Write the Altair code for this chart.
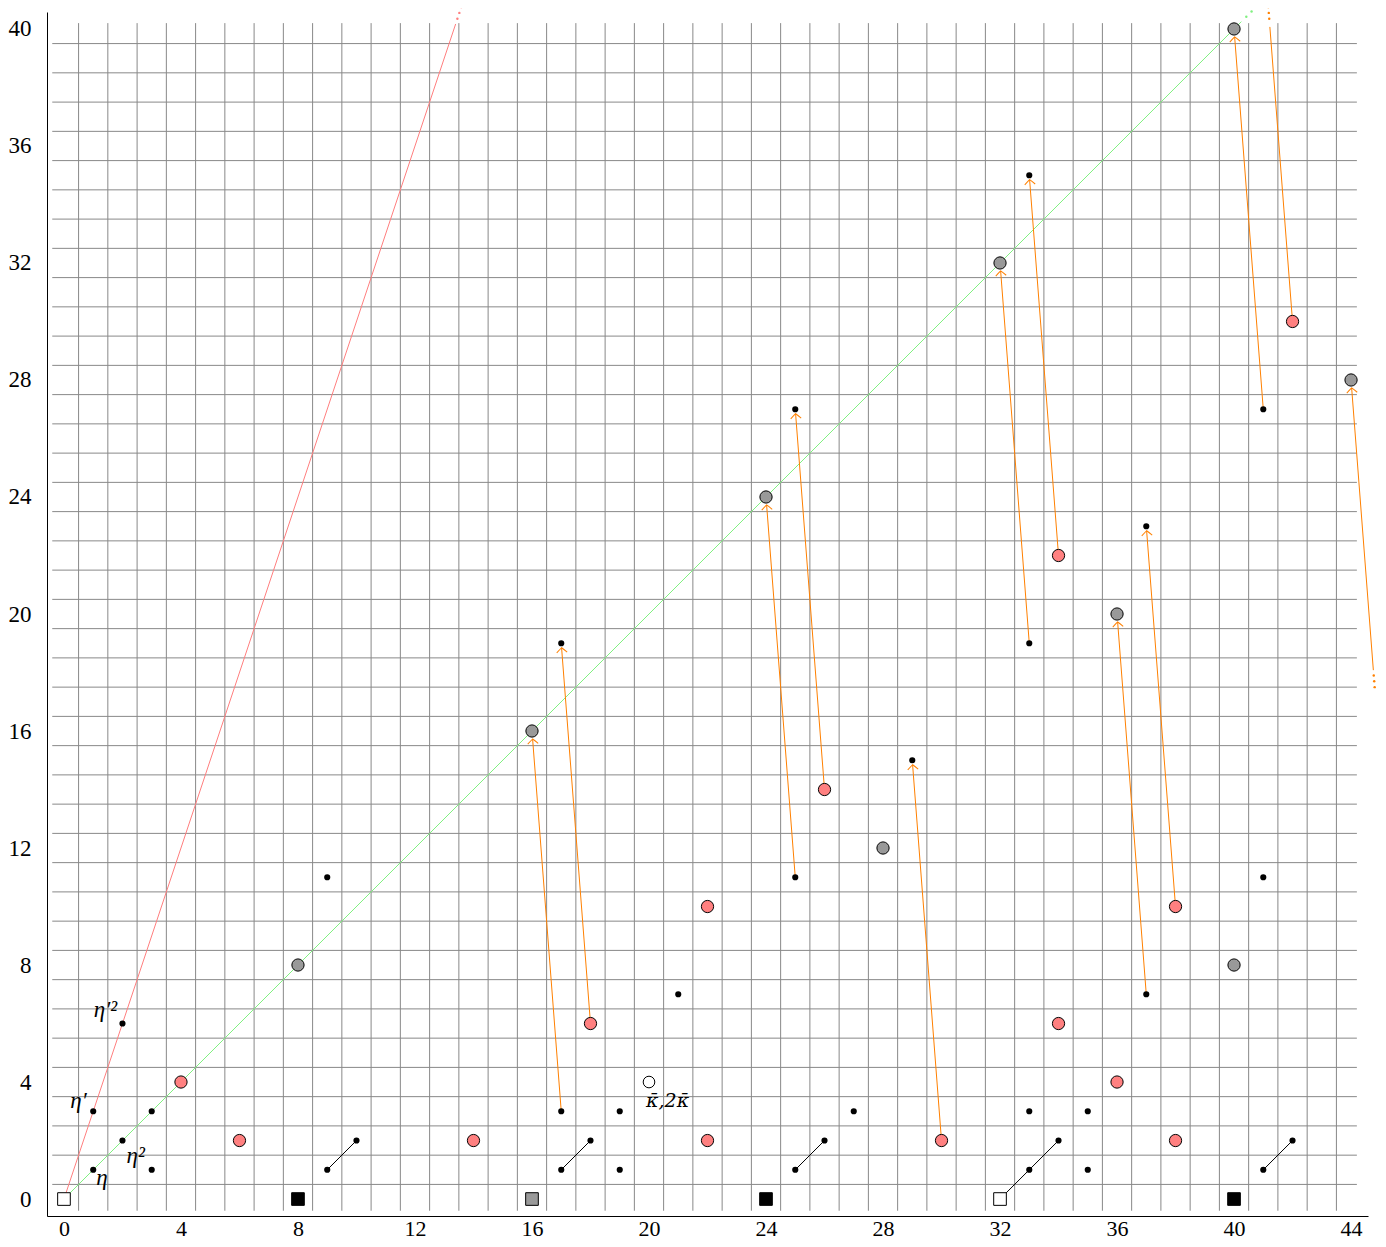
import math
import pandas as pd
import altair as alt

# ---------------- data ----------------
# small black classes
dot_s = [1, 2, 3, 1, 2, 3, 9, 10, 9, 17, 18, 17, 19, 19, 17, 21, 25, 26, 25, 25, 27, 29,
         33, 34, 33, 35, 35, 33, 33, 37, 37, 41, 42, 41, 41]
dot_t = [1, 2, 3, 3, 6, 1, 1, 2, 11, 1, 2, 3, 1, 3, 19, 7, 1, 2, 11, 27, 3, 15,
         1, 2, 3, 1, 3, 19, 35, 7, 23, 1, 2, 11, 27]
# red (pink) circles
red_s = [4, 6, 14, 18, 22, 22, 26, 30, 34, 34, 36, 38, 38, 42]
red_t = [4, 2, 2, 6, 2, 10, 14, 2, 6, 22, 4, 2, 10, 30]
# grey circles
gray_s = [8, 16, 24, 28, 32, 36, 40, 40, 44]
gray_t = [8, 16, 24, 12, 32, 20, 8, 40, 28]
# open circle
open_s = [20]
open_t = [4]
# squares on the bottom row
sq_s = [0, 8, 16, 24, 32, 40]
sq_t = [0, 0, 0, 0, 0, 0]
sq_kind = ["open", "solid", "grey", "solid", "open", "solid"]
# eta multiplications (black segments)
eta_s0 = [9, 17, 25, 32, 33, 41]
eta_t0 = [1, 1, 1, 0, 1, 1]
eta_s1 = [10, 18, 26, 33, 34, 42]
eta_t1 = [2, 2, 2, 1, 2, 2]
# differentials (orange arrows): source -> target
d_src_s = [17, 18, 25, 26, 30, 33, 34, 37, 38, 41, 42, 45]
d_src_t = [3, 6, 11, 14, 2, 19, 22, 7, 10, 27, 30, 15]
d_tgt_s = [16, 17, 24, 25, 29, 32, 33, 36, 37, 40, 41, 44]
d_tgt_t = [16, 19, 24, 27, 15, 32, 35, 20, 23, 40, 43, 28]
# towers from the origin: (slope in t per s, last drawn t, dotted continuation t's)
tower_name = ["eta_prime", "eta"]
tower_slope = [3, 1]
tower_end_t = [40.17, 40.25]
tower_dots_t = [[40.35, 40.55, 40.75], [40.42, 40.6, 40.78]]
# label texts and anchors
lab_text = ["η", "η²", "η′", "η′²"]
lab_s = [1.1, 2.45, 0.5, 1.42]
lab_t = [0.72, 1.47, 3.35, 6.45]
lab_align = ["left", "center", "center", "center"]
kappa_text = ["κ̄,2κ̄"]
kappa_s = [19.9]
kappa_t = [3.35]

# axis ticks
x_ticks = list(range(0, 45, 4))
y_ticks = list(range(0, 41, 4))

# ---------------- styling ----------------
PX = 29.25                      # pixels per unit (both axes)
XDOM = [-0.58, 44.58]
YDOM = [-0.58, 40.58]
W = round((XDOM[1] - XDOM[0]) * PX)
H = round((YDOM[1] - YDOM[0]) * PX)
FONT = "Liberation Serif"
RED_FILL = "#ff8080"
GRAY_FILL = "#999999"
ORANGE = "#ff8000"
RED_LINE = "#ff7f7f"
GREEN_LINE = "#80f080"
GRID = "#888888"

xs = alt.Scale(domain=XDOM, nice=False, zero=False)
ys = alt.Scale(domain=YDOM, nice=False, zero=False)
x_axis = alt.Axis(values=x_ticks, title=None, grid=False, ticks=False, tickSize=0,
                  labelPadding=12, labelBaseline="middle", labelFont=FONT, labelFontSize=22,
                  labelColor="black", domainColor="black", domainWidth=1,
                  labelFlush=False, labelOverlap=False, labelBound=False)
y_axis = alt.Axis(values=y_ticks, title=None, grid=False, ticks=False, tickSize=0,
                  labelPadding=16, labelFont=FONT, labelFontSize=23, labelColor="black",
                  domainColor="black", domainWidth=1, labelFlush=False,
                  labelOverlap=False, labelBound=False)


def X(f="s"):
    return alt.X(f"{f}:Q", scale=xs, axis=x_axis)


def Y(f="t"):
    return alt.Y(f"{f}:Q", scale=ys, axis=y_axis)


# ---------------- grid ----------------
GX0, GX1 = -0.4, 44.2
GY0, GY1 = -0.4, 40.2
vgrid = pd.DataFrame({"s": [i + 0.5 for i in range(44)]})
vgrid["s2"] = vgrid["s"]
vgrid["t"] = GY0
vgrid["t2"] = GY1
hgrid = pd.DataFrame({"t": [j + 0.5 for j in range(40)]})
hgrid["t2"] = hgrid["t"]
hgrid["s"] = GX0
hgrid["s2"] = GX1
grid_df = pd.concat([vgrid, hgrid], ignore_index=True)
grid = alt.Chart(grid_df).mark_rule(color=GRID, strokeWidth=1).encode(
    x=X(), y=Y(), x2="s2:Q", y2="t2:Q")

# ---------------- towers ----------------
tow_rows, tow_dot_rows = [], []
for name, slope, end_t, dts in zip(tower_name, tower_slope, tower_end_t, tower_dots_t):
    tow_rows.append({"name": name, "s": 0, "t": 0, "s2": end_t / slope, "t2": end_t})
    for d in dts:
        tow_dot_rows.append({"name": name, "s": d / slope, "t": d})
tow_df = pd.DataFrame(tow_rows)
tow_dot_df = pd.DataFrame(tow_dot_rows)
tcol = alt.Scale(domain=tower_name, range=[RED_LINE, GREEN_LINE])
towers = alt.Chart(tow_df).mark_rule(strokeWidth=1).encode(
    x=X(), y=Y(), x2="s2:Q", y2="t2:Q",
    color=alt.Color("name:N", scale=tcol, legend=None))
tower_dots = alt.Chart(tow_dot_df).mark_circle(size=6, opacity=1).encode(
    x=X(), y=Y(), color=alt.Color("name:N", scale=tcol, legend=None))

# ---------------- eta segments ----------------
eta_df = pd.DataFrame({"s": eta_s0, "t": eta_t0, "s2": eta_s1, "t2": eta_t1})
etas = alt.Chart(eta_df).mark_rule(color="black", strokeWidth=1).encode(
    x=X(), y=Y(), x2="s2:Q", y2="t2:Q")

# ---------------- differentials ----------------
gray_set = set(zip(gray_s, gray_t))
arr_rows, head_rows, fade_rows = [], [], []
for s0, t0, s1, t1 in zip(d_src_s, d_src_t, d_tgt_s, d_tgt_t):
    ds, dt = s1 - s0, t1 - t0
    L = math.hypot(ds, dt)
    ang = math.degrees(math.atan2(ds, dt)) % 360
    if t1 > YDOM[1]:
        # runs off the top: stop short and continue with dots
        f_end = (40.07 - t0) / dt
        arr_rows.append({"s": s0, "t": t0, "s2": s0 + f_end * ds, "t2": t0 + f_end * dt})
        for tt in [40.35, 40.55, 40.75]:
            f = (tt - t0) / dt
            fade_rows.append({"s": s0 + f * ds, "t": t0 + f * dt})
        continue
    r_px = 8.0 if (s1, t1) in gray_set else 4.5
    d = r_px / PX
    hs, ht = s1 - ds / L * d, t1 - dt / L * d
    if s0 > XDOM[1]:
        # comes in from the right edge
        f_beg = (18.08 - t0) / dt
        arr_rows.append({"s": s0 + f_beg * ds, "t": t0 + f_beg * dt, "s2": hs, "t2": ht})
        for tt in [17.9, 17.7, 17.5]:
            f = (tt - t0) / dt
            fade_rows.append({"s": s0 + f * ds, "t": t0 + f * dt})
    else:
        arr_rows.append({"s": s0, "t": t0, "s2": hs, "t2": ht})
    head_rows.append({"s": hs, "t": ht, "ang": ang})

arr_df = pd.DataFrame(arr_rows)
head_df = pd.DataFrame(head_rows)
fade_df = pd.DataFrame(fade_rows)
arrows = alt.Chart(arr_df).mark_rule(color=ORANGE, strokeWidth=1).encode(
    x=X(), y=Y(), x2="s2:Q", y2="t2:Q")
ARROW_PATH = "M -1 0.9 Q -0.35 0.3 0 0 Q 0.35 0.3 1 0.9"
heads = alt.Chart(head_df).mark_point(
    shape=ARROW_PATH, filled=False, color=ORANGE, strokeWidth=1, size=110, opacity=1
).encode(x=X(), y=Y(), angle=alt.Angle("ang:Q", scale=None))
fades = alt.Chart(fade_df).mark_circle(size=6, color=ORANGE, opacity=1).encode(x=X(), y=Y())

# ---------------- nodes ----------------
dots = alt.Chart(pd.DataFrame({"s": dot_s, "t": dot_t})).mark_circle(
    size=38, color="black", opacity=1).encode(x=X(), y=Y())
reds = alt.Chart(pd.DataFrame({"s": red_s, "t": red_t})).mark_circle(
    size=150, fill=RED_FILL, stroke="black", strokeWidth=1, opacity=1).encode(x=X(), y=Y())
grays = alt.Chart(pd.DataFrame({"s": gray_s, "t": gray_t})).mark_circle(
    size=150, fill=GRAY_FILL, stroke="black", strokeWidth=1, opacity=1).encode(x=X(), y=Y())
opens = alt.Chart(pd.DataFrame({"s": open_s, "t": open_t})).mark_circle(
    size=135, fill="white", stroke="black", strokeWidth=1, opacity=1).encode(x=X(), y=Y())
squares = alt.Chart(pd.DataFrame({"s": sq_s, "t": sq_t, "kind": sq_kind})).mark_square(
    size=160, filled=True, stroke="black", strokeWidth=1, opacity=1).encode(
    x=X(), y=Y(),
    fill=alt.Fill("kind:N", scale=alt.Scale(domain=["open", "solid", "grey"],
                                            range=["white", "black", GRAY_FILL]), legend=None))

# ---------------- labels ----------------
lab_df = pd.DataFrame({"s": lab_s, "t": lab_t, "text": lab_text, "align": lab_align})
labels = []
for al in ["left", "center"]:
    labels.append(
        alt.Chart(lab_df[lab_df["align"] == al]).mark_text(
            font=FONT, fontStyle="italic", fontSize=23, color="black",
            align=al, baseline="middle"
        ).encode(x=X(), y=Y(), text="text:N"))
kappa = alt.Chart(pd.DataFrame({"s": kappa_s, "t": kappa_t, "text": kappa_text})).mark_text(
    font="DejaVu Serif", fontStyle="italic", fontSize=19, color="black",
    align="left", baseline="middle"
).encode(x=X(), y=Y(), text="text:N")

chart = alt.layer(
    grid, towers, tower_dots, etas, arrows, heads, fades,
    dots, reds, grays, opens, squares, *labels, kappa
).properties(
    width=W, height=H,
    autosize=alt.AutoSizeParams(type="none"),
    padding={"left": 39, "top": 4, "right": 10, "bottom": 23},
).configure_view(stroke="transparent")

chart.save("out.html", embed_options={"renderer": "svg", "actions": False})
